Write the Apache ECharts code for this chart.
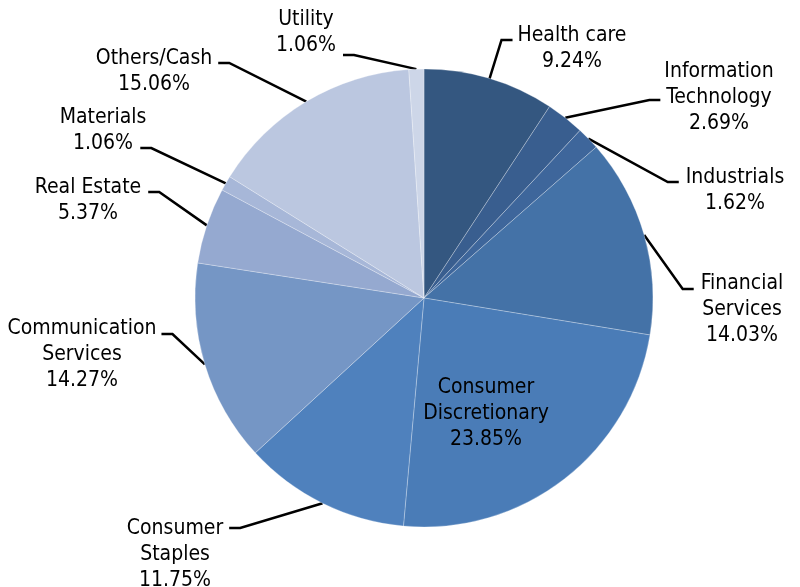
<!DOCTYPE html>
<html><head><meta charset="utf-8">
<script src="https://cdn.jsdelivr.net/npm/echarts@6/dist/echarts.min.js"></script>
<style>html,body{margin:0;background:#fff}#c{width:800px;height:587px}</style>
</head><body><div id="c"></div>
<script>
const categories = ['Health care','Information\nTechnology','Industrials','Financial\nServices','Consumer\nDiscretionary','Consumer\nStaples','Communication\nServices','Real Estate','Materials','Others/Cash','Utility'];
const values = [9.24, 2.69, 1.62, 14.03, 23.85, 11.75, 14.27, 5.37, 1.06, 15.06, 1.06];
const colors = ['#345780','#395e8f','#3e669b','#4472a7','#4a7cb7','#4f81bd','#7596c5','#95a9d0','#a7b7d8','#bbc7e0','#cdd6e8'];
// label placement: [text centre x, first baseline y, side where leader meets ('L'/'R'/null), leader y, gap]
const labelPlaces = [
  [572, 40, 'L', 40, 5],
  [719, 76, 'L', 100, 4],
  [735, 182, 'L', 182, 7],
  [742, 288, 'L', 289, 7],
  [486, 392, null, 0, 0],
  [175, 533, 'R', 528, 6],
  [82, 333, 'R', 334, 5],
  [88, 192, 'R', 192, 7],
  [103, 122, 'R', 148, -6],
  [154, 63, 'R', 63, 6],
  [306, 24, 'R', 55, 7]
];
const FONT = '"DejaVu Sans Condensed", "DejaVu Sans", sans-serif';
const FS = 21, LH = 26;
const chart = echarts.init(document.getElementById('c'), null, {renderer: 'canvas'});
chart.setOption({
  animation: false,
  backgroundColor: '#fff',
  series: [{
    type: 'pie',
    center: [424, 298],
    radius: 229,
    startAngle: 90,
    clockwise: true,
    avoidLabelOverlap: false,
    silent: true,
    itemStyle: {borderColor: 'rgba(255,255,255,0.45)', borderWidth: 0.6},
    data: categories.map((n, i) => ({
      name: n, value: values[i],
      itemStyle: {color: colors[i]},
      labelLine: {show: labelPlaces[i][2] != null}
    })),
    label: {
      show: true,
      formatter: p => p.name + '\n' + p.value.toFixed(2) + '%',
      fontFamily: FONT, fontSize: FS, lineHeight: LH, color: '#000'
    },
    labelLine: {show: true, length: 20, length2: 10, lineStyle: {color: '#000', width: 2.5}},
    labelLayout: function (p) {
      const pl = labelPlaces[p.dataIndex];
      const w = p.labelRect.width;
      const out = {x: pl[0], y: pl[1] - 17.5, align: 'center', verticalAlign: 'top'};
      if (pl[2] && p.labelLinePoints) {
        const start = p.labelLinePoints[0];
        let ex, bx;
        if (pl[2] === 'L') { ex = pl[0] - w / 2 - pl[4]; bx = ex - 11; }
        else { ex = pl[0] + w / 2 + pl[4]; bx = ex + 11; }
        out.labelLinePoints = [start, [bx, pl[3]], [ex, pl[3]]];
      }
      return out;
    }
  }]
});
</script></body></html>
